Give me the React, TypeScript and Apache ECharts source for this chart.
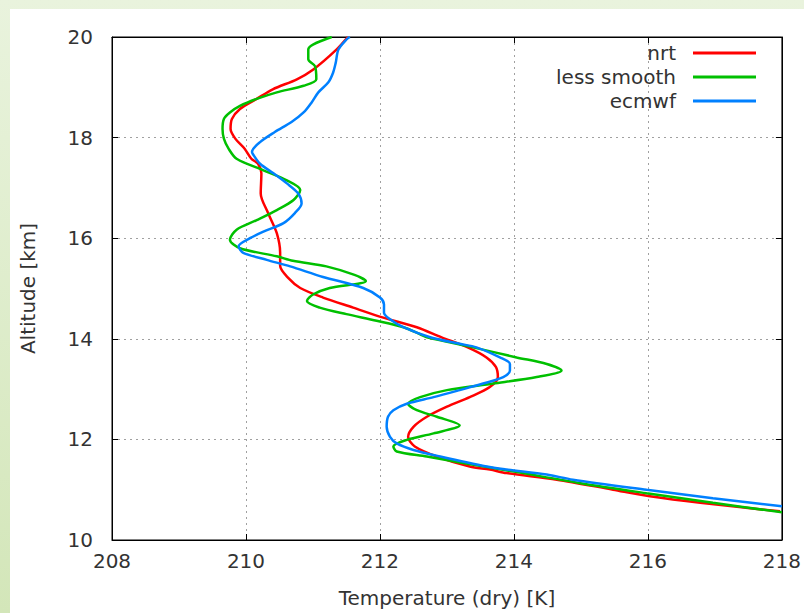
import React, { useEffect, useRef } from "react";
import * as echarts from "echarts";

const FONT = "DejaVu Sans";

const xTickValues = [208, 210, 212, 214, 216, 218];
const yTickValues = [10, 12, 14, 16, 18, 20];

const seriesNames = ["nrt", "less smooth", "ecmwf"];
const seriesColors = ["#ff0000", "#00c000", "#0080ff"];

// nrt
const nrtAlt = [20.0, 19.75, 19.35, 19.16, 18.96, 18.77, 18.57, 18.37, 18.17, 17.98, 17.78, 17.58, 17.48, 17.29, 16.89, 16.5, 16.1, 15.71, 15.45, 15.21, 15.01, 14.82, 14.62, 14.42, 14.23, 14.03, 13.83, 13.63, 13.44, 13.24, 13.04, 12.84, 12.65, 12.45, 12.25, 12.05, 11.86, 11.66, 11.46, 11.4, 11.33, 11.2, 11.0, 10.87, 10.74, 10.57];
const nrtTemp = [211.52, 211.35, 211.0, 210.76, 210.4, 210.16, 209.91, 209.79, 209.77, 209.84, 209.98, 210.08, 210.18, 210.23, 210.22, 210.33, 210.46, 210.51, 210.51, 210.63, 210.81, 211.15, 211.6, 212.05, 212.55, 212.92, 213.31, 213.59, 213.73, 213.76, 213.64, 213.34, 213.0, 212.7, 212.5, 212.42, 212.52, 212.85, 213.34, 213.64, 213.89, 214.64, 215.48, 216.03, 216.78, 217.97];

// less smooth
const lessAlt = [20.0, 19.85, 19.75, 19.56, 19.42, 19.16, 19.03, 18.9, 18.77, 18.63, 18.5, 18.37, 18.17, 17.98, 17.78, 17.58, 17.35, 17.15, 16.96, 16.76, 16.56, 16.36, 16.17, 15.97, 15.8, 15.64, 15.55, 15.44, 15.27, 15.15, 15.01, 14.88, 14.75, 14.62, 14.49, 14.36, 14.23, 14.09, 14.03, 13.83, 13.63, 13.5, 13.37, 13.24, 13.11, 12.98, 12.84, 12.71, 12.58, 12.45, 12.28, 12.12, 11.99, 11.86, 11.76, 11.66, 11.53, 11.36, 11.13, 10.93, 10.74, 10.55];
const lessTemp = [211.28, 211.0, 210.93, 210.93, 211.03, 211.05, 210.86, 210.46, 210.16, 209.91, 209.76, 209.67, 209.65, 209.67, 209.74, 209.86, 210.26, 210.61, 210.81, 210.71, 210.46, 210.16, 209.86, 209.76, 209.91, 210.46, 210.7, 211.2, 211.62, 211.79, 211.25, 211.0, 210.91, 211.1, 211.5, 211.95, 212.35, 212.6, 212.7, 213.39, 214.04, 214.49, 214.71, 214.34, 213.69, 213.0, 212.6, 212.42, 212.55, 212.85, 213.19, 212.8, 212.4, 212.2, 212.25, 212.7, 213.24, 214.0, 214.99, 215.98, 216.97, 218.0];

// ecmwf
const ecmAlt = [20.0, 19.95, 19.75, 19.49, 19.29, 19.1, 18.9, 18.7, 18.5, 18.31, 18.11, 17.91, 17.72, 17.68, 17.48, 17.29, 17.09, 16.89, 16.69, 16.5, 16.3, 16.13, 16.0, 15.84, 15.71, 15.57, 15.44, 15.23, 15.01, 14.82, 14.68, 14.52, 14.39, 14.23, 14.03, 13.9, 13.83, 13.63, 13.5, 13.37, 13.24, 13.11, 12.98, 12.84, 12.71, 12.58, 12.45, 12.25, 12.05, 11.92, 11.79, 11.66, 11.46, 11.4, 11.3, 11.2, 11.0, 10.83, 10.67];
const ecmTemp = [211.55, 211.5, 211.38, 211.34, 211.3, 211.23, 211.08, 210.98, 210.86, 210.68, 210.43, 210.21, 210.09, 210.1, 210.21, 210.41, 210.61, 210.78, 210.83, 210.73, 210.56, 210.26, 210.06, 209.89, 209.96, 210.31, 210.66, 211.15, 211.75, 212.0, 212.06, 212.06, 212.15, 212.35, 212.75, 213.19, 213.44, 213.79, 213.94, 213.94, 213.84, 213.54, 213.19, 212.8, 212.4, 212.2, 212.12, 212.1, 212.15, 212.25, 212.5, 212.9, 213.59, 213.89, 214.49, 214.88, 215.98, 216.97, 218.0];

const temps = [nrtTemp, lessTemp, ecmTemp];
const alts = [nrtAlt, lessAlt, ecmAlt];

export default function App() {
  const ref = useRef<HTMLDivElement>(null);

  useEffect(() => {
    if (!ref.current) return;
    const chart = echarts.init(ref.current, undefined, { renderer: "svg", width: 794, height: 604 });
    const textBase = { fontFamily: FONT, fontSize: 20, color: "#333" };
    const xMin = xTickValues[0];
    const xMax = xTickValues[xTickValues.length - 1];
    const yMin = yTickValues[0];
    const yMax = yTickValues[yTickValues.length - 1];
    const xStep = xTickValues[1] - xTickValues[0];
    const yStep = yTickValues[1] - yTickValues[0];
    const tick = { show: true, inside: true, length: 6, lineStyle: { color: "#000", width: 1 } };
    const axisLine = { show: true, lineStyle: { color: "#000", width: 1 } };
    const splitLine = { show: true, lineStyle: { color: "#a0a0a0", width: 1, type: [2, 4] } };

    chart.setOption({
      animation: false,
      backgroundColor: "#ffffff",
      textStyle: { fontFamily: FONT },
      grid: { left: 102, top: 28, width: 670, height: 507, show: true, borderColor: "#000", borderWidth: 1, backgroundColor: "transparent" },
      legend: {
        orient: "vertical",
        right: 48,
        top: 32,
        align: "right",
        icon: "rect",
        itemWidth: 63,
        itemHeight: 3,
        itemGap: 0,
        padding: 0,
        data: seriesNames,
        textStyle: { ...textBase, lineHeight: 24, padding: [0, 12, 0, 0] },
      },
      xAxis: [
        {
          type: "value", min: xMin, max: xMax, interval: xStep, position: "bottom",
          name: "Temperature (dry) [K]", nameLocation: "middle", nameGap: 48,
          nameTextStyle: textBase,
          axisLine, axisTick: tick,
          axisLabel: { ...textBase, margin: 11 },
          splitLine,
        },
        {
          type: "value", min: xMin, max: xMax, interval: xStep, position: "top",
          axisLine, axisTick: tick, axisLabel: { show: false }, splitLine: { show: false },
        },
      ],
      yAxis: [
        {
          type: "value", min: yMin, max: yMax, interval: yStep, position: "left",
          name: "Altitude [km]", nameLocation: "middle", nameGap: 74, nameRotate: 90,
          nameTextStyle: textBase,
          axisLine, axisTick: tick,
          axisLabel: { ...textBase, margin: 19 },
          splitLine,
        },
        {
          type: "value", min: yMin, max: yMax, interval: yStep, position: "right",
          axisLine, axisTick: tick, axisLabel: { show: false }, splitLine: { show: false },
        },
      ],
      series: seriesNames.map((name, i) => ({
        name,
        type: "line",
        xAxisIndex: 0,
        yAxisIndex: 0,
        data: temps[i].map((t, j) => [t, alts[i][j]]),
        symbol: "none",
        showSymbol: false,
        smooth: 0.3,
        clip: true,
        lineStyle: { color: seriesColors[i], width: 2.5 },
        itemStyle: { color: seriesColors[i] },
      })),
    });
    return () => chart.dispose();
  }, []);

  return (
    <div style={{ position: "fixed", left: 0, top: 0, width: 804, height: 613, background: "linear-gradient(to bottom, #e9f3dd, #d3e6b9)" }}>
      <div ref={ref} style={{ position: "absolute", left: 10, top: 9, width: 794, height: 604 }} />
    </div>
  );
}
